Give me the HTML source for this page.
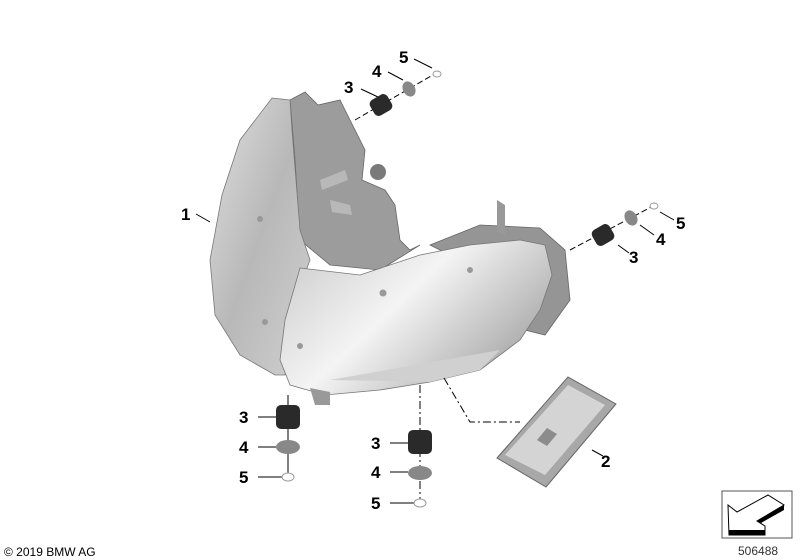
<!DOCTYPE html>
<html><head><meta charset="utf-8"><style>
html,body{margin:0;padding:0;background:#fff;}
svg{display:block}
text{font-family:"Liberation Sans",sans-serif;font-weight:bold;fill:#000}
</style></head><body>
<svg width="800" height="560" viewBox="0 0 800 560" xmlns="http://www.w3.org/2000/svg">
<defs>
<linearGradient id="g1" x1="0" y1="0" x2="1" y2="1">
<stop offset="0" stop-color="#e0e0e0"/><stop offset="0.5" stop-color="#b8b8b8"/><stop offset="1" stop-color="#d0d0d0"/>
</linearGradient>
<linearGradient id="g2" x1="0" y1="0" x2="1" y2="0.6">
<stop offset="0" stop-color="#c8c8c8"/><stop offset="0.5" stop-color="#f4f4f4"/><stop offset="1" stop-color="#a8a8a8"/>
</linearGradient>
</defs>
<polygon points="290,100 305,92 318,105 340,100 350,120 365,150 362,180 385,190 395,205 400,240 410,250 420,245 380,270 330,265 300,240 295,160" fill="#9c9c9c" stroke="#666" stroke-width="0.8"/>
<polygon points="330,200 350,205 352,215 332,212" fill="#b8b8b8"/>
<polygon points="320,180 345,170 348,180 322,190" fill="#b8b8b8"/>
<circle cx="378" cy="172" r="8" fill="#7a7a7a"/>
<polygon points="430,245 480,225 540,228 565,250 570,300 545,335 525,330 520,290" fill="#959595" stroke="#666" stroke-width="0.8"/>
<polygon points="497,200 505,205 505,235 497,232" fill="#999"/>
<polygon points="272,98 290,100 292,130 300,230 310,260 295,300 285,375 275,375 240,355 215,315 210,260 222,195 240,140" fill="url(#g1)" stroke="#777" stroke-width="0.8"/>
<polygon points="300,268 360,275 420,255 470,245 520,240 545,245 552,275 540,310 520,340 480,370 430,382 380,390 325,395 290,385 280,360 285,320" fill="url(#g2)" stroke="#777" stroke-width="0.8"/>
<polygon points="330,380 500,350 520,330 480,370 430,382" fill="#d0d0d0"/>
<polygon points="310,388 330,392 330,405 315,405" fill="#999"/>
<circle cx="260" cy="219" r="3" fill="#999"/><circle cx="265" cy="322" r="3" fill="#999"/>
<circle cx="383" cy="293" r="3.5" fill="#999"/><circle cx="470" cy="270" r="3" fill="#999"/><circle cx="300" cy="346" r="3" fill="#999"/>
<polygon points="497,458 568,377 616,404 546,487" fill="#a8a8a8" stroke="#666" stroke-width="1"/>
<polygon points="505,455 568,385 605,405 545,475" fill="#d4d4d4"/>
<polygon points="537,440 547,428 557,434 547,446" fill="#8c8c8c"/>
<g stroke="#000" stroke-width="1" fill="none">
<line x1="355" y1="120" x2="438" y2="72" stroke-dasharray="6,3"/>
<line x1="570" y1="250" x2="655" y2="205" stroke-dasharray="6,3"/>
<line x1="288" y1="395" x2="288" y2="478"/>
<line x1="420" y1="385" x2="420" y2="502" stroke-dasharray="8,3,2,3"/>
<polyline points="444,378 470,422 520,422" stroke-dasharray="8,3,2,3"/>
<line x1="196" y1="214" x2="210" y2="222"/>
<line x1="361" y1="89" x2="378" y2="97"/><line x1="388" y1="72" x2="403" y2="80"/><line x1="414" y1="59" x2="432" y2="68"/>
<line x1="618" y1="245" x2="629" y2="253"/><line x1="640" y1="225" x2="654" y2="235"/><line x1="660" y1="212" x2="674" y2="220"/>
<line x1="258" y1="417" x2="276" y2="417"/><line x1="258" y1="447" x2="276" y2="447"/><line x1="258" y1="477" x2="282" y2="477"/>
<line x1="390" y1="443" x2="408" y2="443"/><line x1="390" y1="472" x2="408" y2="472"/><line x1="390" y1="503" x2="414" y2="503"/>
<line x1="592" y1="450" x2="603" y2="456"/>
</g>
<g>
<g transform="rotate(-30 381 105)"><rect x="371" y="96" width="20" height="18" rx="5" fill="#2a2a2a"/></g>
<ellipse cx="409" cy="89" rx="6" ry="8" fill="#888" transform="rotate(-30 409 89)"/>
<ellipse cx="437" cy="74" rx="4" ry="3" fill="#fff" stroke="#999"/>
<g transform="rotate(-30 603 235)"><rect x="593" y="226" width="20" height="18" rx="5" fill="#2a2a2a"/></g>
<ellipse cx="631" cy="218" rx="6" ry="8" fill="#888" transform="rotate(-30 631 218)"/>
<ellipse cx="654" cy="206" rx="4" ry="3" fill="#fff" stroke="#999"/>
<rect x="276" y="405" width="24" height="24" rx="5" fill="#2a2a2a"/>
<ellipse cx="288" cy="447" rx="12" ry="7" fill="#888"/>
<ellipse cx="288" cy="477" rx="6" ry="4" fill="#fff" stroke="#999"/>
<rect x="408" y="430" width="24" height="24" rx="5" fill="#2a2a2a"/>
<ellipse cx="420" cy="473" rx="12" ry="7" fill="#888"/>
<ellipse cx="420" cy="503" rx="6" ry="4" fill="#fff" stroke="#999"/>
</g>
<g font-size="17">
<text x="181" y="220">1</text>
<text x="344" y="93">3</text><text x="372" y="77">4</text><text x="399" y="63">5</text>
<text x="629" y="263">3</text><text x="656" y="245">4</text><text x="676" y="229">5</text>
<text x="239" y="423">3</text><text x="239" y="453">4</text><text x="239" y="483">5</text>
<text x="371" y="449">3</text><text x="371" y="478">4</text><text x="371" y="509">5</text>
<text x="601" y="467">2</text>
</g>
<text x="4" y="556" font-size="12" style="font-weight:normal">© 2019 BMW AG</text>
<rect x="722" y="491" width="70" height="47" fill="none" stroke="#555" stroke-width="1"/>
<polygon points="728,505 737,512 768,495 784,505 757,521 765,526 765,535 729,535" fill="#fff" stroke="#000" stroke-width="1"/>
<polygon points="729,530 765,530 765,535 729,535" fill="#000"/>
<polygon points="757,521 784,505 784,510 761,523" fill="#000"/>
<text x="738" y="555" font-size="12" style="font-weight:normal;fill:#333">506488</text>
</svg>
</body></html>
